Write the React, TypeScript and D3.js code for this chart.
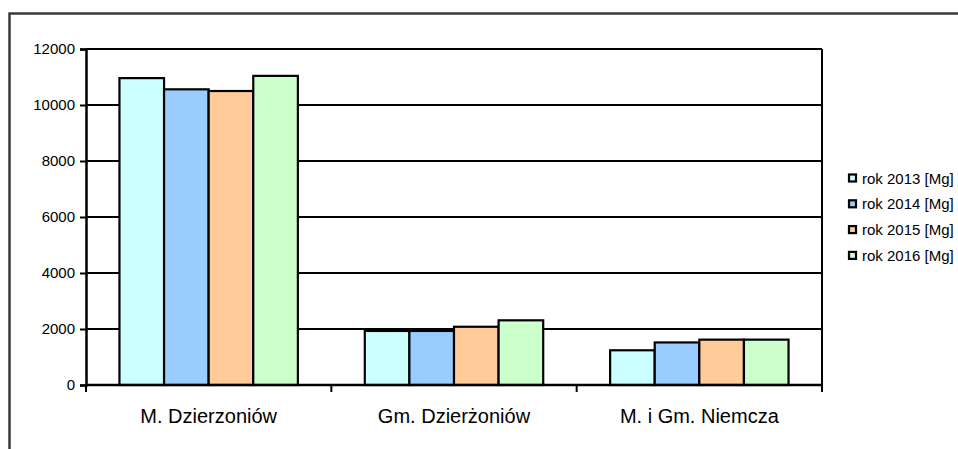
import React, { useEffect, useRef } from 'react';
import * as d3 from 'd3';

// data
const categories = ['M. Dzierzoniów', 'Gm. Dzierżoniów', 'M. i Gm. Niemcza'];
const seriesNames = ['rok 2013 [Mg]', 'rok 2014 [Mg]', 'rok 2015 [Mg]', 'rok 2016 [Mg]'];
const values2013 = [10960, 1930, 1240];
const values2014 = [10560, 1930, 1520];
const values2015 = [10500, 2080, 1620];
const values2016 = [11040, 2310, 1620];
const yTicks = [0, 2000, 4000, 6000, 8000, 10000, 12000];
const seriesColors = ['#CCFFFF', '#99CCFF', '#FFCC99', '#CCFFCC'];

const FONT = "Arial, 'Liberation Sans', sans-serif";

const App = () => {
    const svgRef = useRef<SVGSVGElement | null>(null);
    const width = 958;
    const height = 449;
    const plot = { left: 86, right: 822, top: 49, bottom: 385 };

    useEffect(() => {
        if (!svgRef.current) return;
        const svg = d3.select(svgRef.current);
        svg.selectAll('*').remove();

        const series = [values2013, values2014, values2015, values2016];

        // outer chart frame (runs off the right and bottom edges)
        svg.append('rect')
            .attr('x', 9.5)
            .attr('y', 13.5)
            .attr('width', 960)
            .attr('height', 450)
            .attr('fill', 'none')
            .attr('stroke', '#3a3a3a')
            .attr('stroke-width', 2.5);

        const x0 = d3.scaleBand<string>()
            .domain(categories)
            .range([plot.left, plot.right])
            .paddingInner(0)
            .paddingOuter(0);

        // excel style gap width 150% -> 0.75 bar on each side
        const x1 = d3.scaleBand<string>()
            .domain(seriesNames)
            .range([0, x0.bandwidth()])
            .paddingInner(0)
            .paddingOuter(0.75);

        const y = d3.scaleLinear()
            .domain([0, 12000])
            .range([plot.bottom, plot.top]);

        // gridlines
        svg.append('g')
            .selectAll('line')
            .data(yTicks.filter(t => t > 0))
            .join('line')
                .attr('x1', plot.left)
                .attr('x2', plot.right)
                .attr('y1', d => y(d))
                .attr('y2', d => y(d))
                .attr('stroke', '#000')
                .attr('stroke-width', 2);

        // right border of plot area
        svg.append('line')
            .attr('x1', plot.right).attr('x2', plot.right)
            .attr('y1', plot.top).attr('y2', plot.bottom)
            .attr('stroke', '#000').attr('stroke-width', 2);

        // bars
        const groups = svg.append('g')
            .selectAll('g')
            .data(categories)
            .join('g')
            .attr('transform', d => `translate(${x0(d)},0)`);

        groups.selectAll('rect')
            .data((c, ci) => seriesNames.map((s, si) => ({ s, si, v: series[si][ci] })))
            .join('rect')
                .attr('x', d => x1(d.s) as number)
                .attr('y', d => y(d.v))
                .attr('width', x1.bandwidth())
                .attr('height', d => plot.bottom - y(d.v))
                .attr('fill', d => seriesColors[d.si])
                .attr('stroke', '#000')
                .attr('stroke-width', 2.2);

        // y axis
        const yAxis = svg.append('g')
            .attr('transform', `translate(${plot.left},0)`)
            .call(d3.axisLeft(y).tickValues(yTicks).tickSize(6).tickPadding(5).tickFormat(d3.format('d')));
        yAxis.select('.domain').attr('stroke', '#000').attr('stroke-width', 2.5);
        yAxis.selectAll('.tick line').attr('stroke', '#000').attr('stroke-width', 2);
        yAxis.selectAll('text')
            .attr('fill', '#000')
            .style('font-family', FONT)
            .style('font-size', '15px');

        // x axis with ticks at category boundaries
        const bounds = categories.map(c => x0(c) as number).concat([plot.right]);
        svg.append('line')
            .attr('x1', plot.left).attr('x2', plot.right)
            .attr('y1', plot.bottom).attr('y2', plot.bottom)
            .attr('stroke', '#000').attr('stroke-width', 2.5);
        svg.append('g')
            .selectAll('line')
            .data(bounds)
            .join('line')
                .attr('x1', d => d).attr('x2', d => d)
                .attr('y1', plot.bottom).attr('y2', plot.bottom + 7)
                .attr('stroke', '#000').attr('stroke-width', 2);
        svg.append('g')
            .selectAll('text')
            .data(categories)
            .join('text')
                .attr('x', d => (x0(d) as number) + x0.bandwidth() / 2)
                .attr('y', 423)
                .attr('text-anchor', 'middle')
                .style('font-family', FONT)
                .style('font-size', '20px')
                .attr('fill', '#000')
                .text(d => d);

        // legend
        const legend = svg.append('g')
            .selectAll('g')
            .data(seriesNames)
            .join('g')
            .attr('transform', (d, i) => `translate(848,${178 + i * 25.8})`);
        legend.append('rect')
            .attr('x', 1)
            .attr('y', -3.5)
            .attr('width', 7)
            .attr('height', 7)
            .attr('fill', (d, i) => seriesColors[i])
            .attr('stroke', '#000')
            .attr('stroke-width', 2.2);
        legend.append('text')
            .attr('x', 14)
            .attr('y', 5.5)
            .style('font-family', FONT)
            .style('font-size', '15px')
            .attr('fill', '#000')
            .text(d => d);
    }, []);

    return (
        <svg ref={svgRef} width={width} height={height}
            style={{ position: 'absolute', left: 0, top: 0, background: '#fff', display: 'block' }} />
    );
};

export default App;
